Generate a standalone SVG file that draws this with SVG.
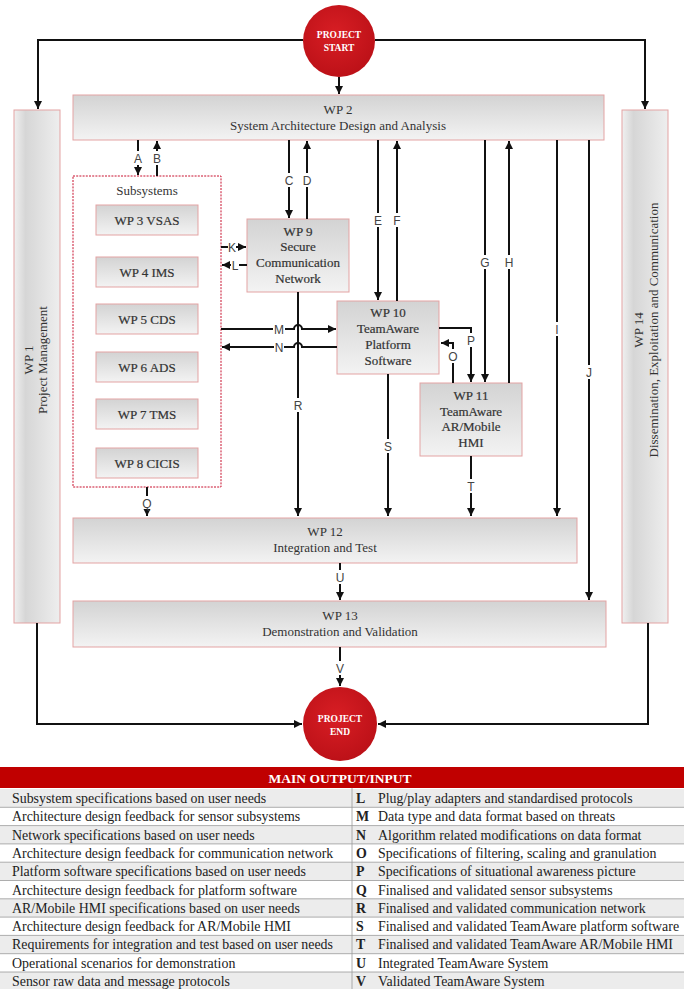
<svg xmlns="http://www.w3.org/2000/svg" width="684" height="989" viewBox="0 0 684 989">
<defs>
<marker id="ah" viewBox="0 0 10 10" refX="10" refY="5" markerWidth="4.2" markerHeight="4.2" orient="auto" markerUnits="strokeWidth"><path d="M0,0 L10,5 L0,10 z" fill="#111"/></marker>
<linearGradient id="gh" x1="0" y1="0" x2="0" y2="1"><stop offset="0" stop-color="#d3d3d3"/><stop offset="1" stop-color="#f3f3f3"/></linearGradient>
<linearGradient id="gv" x1="0" y1="0" x2="1" y2="0"><stop offset="0" stop-color="#f0f0f0"/><stop offset="0.25" stop-color="#d6d6d6"/><stop offset="1" stop-color="#eeeeee"/></linearGradient>
<radialGradient id="gr" cx="0.45" cy="0.4" r="0.7"><stop offset="0" stop-color="#d81e24"/><stop offset="1" stop-color="#b80f16"/></radialGradient>
</defs>
<style>
.box{fill:url(#gh);stroke:#e3a3a3;stroke-width:1}
.vbox{fill:url(#gv);stroke:#e3a3a3;stroke-width:1}
.t{font-family:"Liberation Serif","Times New Roman",serif;font-size:13px;fill:#333;text-anchor:middle}
.tb{font-family:"Liberation Serif","Times New Roman",serif;font-size:13px;fill:#333;text-anchor:middle;stroke:#333;stroke-width:0.2}
.c{fill:url(#gr)}
.ct{font-family:"Liberation Serif","Times New Roman",serif;font-size:9.5px;font-weight:bold;fill:#fff;text-anchor:middle}
.ln{fill:none;stroke:#111;stroke-width:2}
.a{marker-end:url(#ah)}
.lr{fill:#fff}
.lb{font-family:"Liberation Sans",Arial,sans-serif;font-size:12px;fill:#444;text-anchor:middle}
.rt{font-family:"Liberation Serif","Times New Roman",serif;font-size:13.9px;fill:#222}
.rk{font-family:"Liberation Serif","Times New Roman",serif;font-size:13.9px;font-weight:bold;fill:#222}
.g{fill:#ececec}
.sep{stroke:#9a9a9a;stroke-width:0.8}
</style>

<g id="start"><circle class="c" cx="339" cy="41" r="36"/><text class="ct" x="339" y="38">PROJECT</text><text class="ct" x="339" y="51">START</text></g>
<g id="end"><circle class="c" cx="340" cy="724" r="37"/><text class="ct" x="340" y="722">PROJECT</text><text class="ct" x="340" y="735">END</text></g>

<g id="wp1"><rect class="vbox" x="14" y="110" width="46" height="513"/><g transform="translate(37,360) rotate(-90)"><text class="t" x="0" y="-4.5">WP 1</text><text class="t" x="0" y="9.5">Project Management</text></g></g>
<g id="wp14"><rect class="vbox" x="622" y="110" width="46" height="513"/><g transform="translate(645,330) rotate(-90)"><text class="t" x="0" y="-2.5">WP 14</text><text class="t" x="0" y="12.5">Dissemination, Exploitation and Communication</text></g></g>
<g id="wp2"><rect class="box" x="73" y="95" width="531" height="45"/><text class="t" x="338" y="114">WP 2</text><text class="t" x="338" y="130">System Architecture Design and Analysis</text></g>

<g id="subsystems"><rect x="73" y="176" width="148" height="311" fill="none" stroke="#c8102e" stroke-width="1" stroke-dasharray="2,1.2"/><text class="t" x="147" y="195" font-size="12">Subsystems</text>
<g id="wp3"><rect class="box" x="96" y="205" width="102" height="30"/><text class="tb" x="147" y="225">WP 3 VSAS</text></g>
<g id="wp4"><rect class="box" x="96" y="257" width="102" height="30"/><text class="tb" x="147" y="277">WP 4 IMS</text></g>
<g id="wp5"><rect class="box" x="96" y="304" width="102" height="30"/><text class="tb" x="147" y="324">WP 5 CDS</text></g>
<g id="wp6"><rect class="box" x="96" y="352" width="102" height="30"/><text class="tb" x="147" y="372">WP 6 ADS</text></g>
<g id="wp7"><rect class="box" x="96" y="399" width="102" height="30"/><text class="tb" x="147" y="419">WP 7 TMS</text></g>
<g id="wp8"><rect class="box" x="96" y="448" width="102" height="30"/><text class="tb" x="147" y="468">WP 8 CICIS</text></g>
</g>

<g id="wp9"><rect class="box" x="247" y="219" width="102" height="73"/><text class="tb" x="298" y="236">WP 9</text><text class="tb" x="298" y="251">Secure</text><text class="tb" x="298" y="267">Communication</text><text class="tb" x="298" y="283">Network</text></g>
<g id="wp10"><rect class="box" x="337" y="301" width="102" height="73"/><text class="tb" x="388" y="317">WP 10</text><text class="tb" x="388" y="333">TeamAware</text><text class="tb" x="388" y="349">Platform</text><text class="tb" x="388" y="365">Software</text></g>
<g id="wp11"><rect class="box" x="420" y="383" width="102" height="73"/><text class="tb" x="471" y="400">WP 11</text><text class="tb" x="471" y="416">TeamAware</text><text class="tb" x="471" y="431">AR/Mobile</text><text class="tb" x="471" y="447">HMI</text></g>
<g id="wp12"><rect class="box" x="73" y="518" width="504" height="45"/><text class="t" x="325" y="536">WP 12</text><text class="t" x="325" y="552">Integration and Test</text></g>
<g id="wp13"><rect class="box" x="73" y="601" width="533" height="46"/><text class="t" x="340" y="620">WP 13</text><text class="t" x="340" y="636">Demonstration and Validation</text></g>

<g id="connectors">
<path class="ln a" d="M303,40 H38 V109"/>
<path class="ln a" d="M375,40 H645 V109"/>
<path class="ln a" d="M339,77 V94"/>
<path class="ln a" d="M138,140 V175"/><path class="ln a" d="M157,176 V141"/>
<path class="ln a" d="M289,140 V218"/><path class="ln a" d="M307,219 V141"/>
<path class="ln a" d="M221,247 H246"/><path class="ln a" d="M247,265 H222"/>
<path class="ln a" d="M378,140 V300"/><path class="ln a" d="M397,301 V141"/>
<path class="ln a" d="M221,329 H294 A4,4 0 0 1 302,329 H336"/>
<path class="ln a" d="M337,347 H302 A4,4 0 0 0 294,347 H222"/>
<path class="ln a" d="M298,292 V516"/>
<path class="ln a" d="M485,140 V382"/><path class="ln a" d="M509,383 V141"/>
<path class="ln a" d="M439,328 H471 V382"/>
<path class="ln a" d="M453,383 V343 H441"/>
<path class="ln a" d="M557,140 V516"/>
<path class="ln a" d="M589,140 V600"/>
<path class="ln a" d="M388,374 V516"/>
<path class="ln a" d="M471,456 V516"/>
<path class="ln a" d="M147,487 V516"/>
<path class="ln a" d="M340,563 V600"/>
<path class="ln a" d="M340,647 V686"/>
<path class="ln a" d="M37,623 V724 H302"/>
<path class="ln a" d="M648,623 V724 H378"/>
<g id="labels">
<rect class="lr" x="133" y="151" width="10" height="14"/><text class="lb" x="138" y="162.5">A</text>
<rect class="lr" x="152" y="151" width="10" height="14"/><text class="lb" x="157" y="162.5">B</text>
<rect class="lr" x="284" y="173" width="10" height="14"/><text class="lb" x="289" y="184.5">C</text>
<rect class="lr" x="302" y="173" width="10" height="14"/><text class="lb" x="307" y="184.5">D</text>
<rect class="lr" x="373" y="213" width="10" height="14"/><text class="lb" x="378" y="224.5">E</text>
<rect class="lr" x="392" y="213" width="10" height="14"/><text class="lb" x="397" y="224.5">F</text>
<rect class="lr" x="480" y="255" width="10" height="14"/><text class="lb" x="485" y="266.5">G</text>
<rect class="lr" x="504" y="255" width="10" height="14"/><text class="lb" x="509" y="266.5">H</text>
<rect class="lr" x="553" y="322" width="8" height="14"/><text class="lb" x="557" y="333.5">I</text>
<rect class="lr" x="585" y="365" width="8" height="14"/><text class="lb" x="589" y="376.5">J</text>
<rect class="lr" x="228" y="241" width="8" height="12"/><text class="lb" x="232" y="251.5">K</text>
<rect class="lr" x="231" y="259" width="8" height="12"/><text class="lb" x="235" y="269.5">L</text>
<rect class="lr" x="273" y="322" width="12" height="14"/><text class="lb" x="279" y="333.5">M</text>
<rect class="lr" x="274" y="340" width="10" height="14"/><text class="lb" x="279" y="351.5">N</text>
<rect class="lr" x="448" y="349" width="10" height="14"/><text class="lb" x="453" y="360.5">O</text>
<rect class="lr" x="466" y="333" width="10" height="14"/><text class="lb" x="471" y="344.5">P</text>
<rect class="lr" x="142" y="496" width="10" height="13"/><text class="lb" x="147" y="507.5">Q</text>
<rect class="lr" x="293" y="398" width="10" height="14"/><text class="lb" x="298" y="409.5">R</text>
<rect class="lr" x="383" y="439" width="10" height="14"/><text class="lb" x="388" y="450.5">S</text>
<rect class="lr" x="466" y="479" width="10" height="14"/><text class="lb" x="471" y="490.5">T</text>
<rect class="lr" x="335" y="570" width="10" height="14"/><text class="lb" x="340" y="581.5">U</text>
<rect class="lr" x="335" y="661" width="10" height="14"/><text class="lb" x="340" y="672.5">V</text>
</g>
</g>

<g id="table">
<rect x="0" y="767" width="684" height="21" fill="#c00000"/>
<text x="340" y="783" font-family="Liberation Serif,Times New Roman,serif" font-size="13.5" font-weight="bold" fill="#fff" text-anchor="middle">MAIN OUTPUT/INPUT</text>
<rect class="g" x="0" y="789" width="684" height="18.3"/>
<rect class="g" x="0" y="825.6" width="684" height="18.3"/>
<rect class="g" x="0" y="862.2" width="684" height="18.3"/>
<rect class="g" x="0" y="898.8" width="684" height="18.3"/>
<rect class="g" x="0" y="935.4" width="684" height="18.3"/>
<rect class="g" x="0" y="972" width="684" height="17"/>
<g class="sep">
<line x1="0" y1="807.3" x2="684" y2="807.3"/><line x1="0" y1="825.6" x2="684" y2="825.6"/><line x1="0" y1="843.9" x2="684" y2="843.9"/><line x1="0" y1="862.2" x2="684" y2="862.2"/><line x1="0" y1="880.5" x2="684" y2="880.5"/><line x1="0" y1="898.8" x2="684" y2="898.8"/><line x1="0" y1="917.1" x2="684" y2="917.1"/><line x1="0" y1="935.4" x2="684" y2="935.4"/><line x1="0" y1="953.7" x2="684" y2="953.7"/><line x1="0" y1="972" x2="684" y2="972"/>
<line x1="352" y1="788" x2="352" y2="989"/>
</g>
<text class="rt" x="12" y="803">Subsystem specifications based on user needs</text>
<text class="rt" x="12" y="821.3">Architecture design feedback for sensor subsystems</text>
<text class="rt" x="12" y="839.6">Network specifications based on user needs</text>
<text class="rt" x="12" y="857.9">Architecture design feedback for communication network</text>
<text class="rt" x="12" y="876.2">Platform software specifications based on user needs</text>
<text class="rt" x="12" y="894.5">Architecture design feedback for platform software</text>
<text class="rt" x="12" y="912.8">AR/Mobile HMI specifications based on user needs</text>
<text class="rt" x="12" y="931.1">Architecture design feedback for AR/Mobile HMI</text>
<text class="rt" x="12" y="949.4">Requirements for integration and test based on user needs</text>
<text class="rt" x="12" y="967.7">Operational scenarios for demonstration</text>
<text class="rt" x="12" y="986">Sensor raw data and message protocols</text>
<text class="rk" x="356" y="803">L</text><text class="rt" x="378" y="803">Plug/play adapters and standardised protocols</text>
<text class="rk" x="356" y="821.3">M</text><text class="rt" x="378" y="821.3">Data type and data format based on threats</text>
<text class="rk" x="356" y="839.6">N</text><text class="rt" x="378" y="839.6">Algorithm related modifications on data format</text>
<text class="rk" x="356" y="857.9">O</text><text class="rt" x="378" y="857.9">Specifications of filtering, scaling and granulation</text>
<text class="rk" x="356" y="876.2">P</text><text class="rt" x="378" y="876.2">Specifications of situational awareness picture</text>
<text class="rk" x="356" y="894.5">Q</text><text class="rt" x="378" y="894.5">Finalised and validated sensor subsystems</text>
<text class="rk" x="356" y="912.8">R</text><text class="rt" x="378" y="912.8">Finalised and validated communication network</text>
<text class="rk" x="356" y="931.1">S</text><text class="rt" x="378" y="931.1">Finalised and validated TeamAware platform software</text>
<text class="rk" x="356" y="949.4">T</text><text class="rt" x="378" y="949.4">Finalised and validated TeamAware AR/Mobile HMI</text>
<text class="rk" x="356" y="967.7">U</text><text class="rt" x="378" y="967.7">Integrated TeamAware System</text>
<text class="rk" x="356" y="986">V</text><text class="rt" x="378" y="986">Validated TeamAware System</text>
</g>
</svg>
